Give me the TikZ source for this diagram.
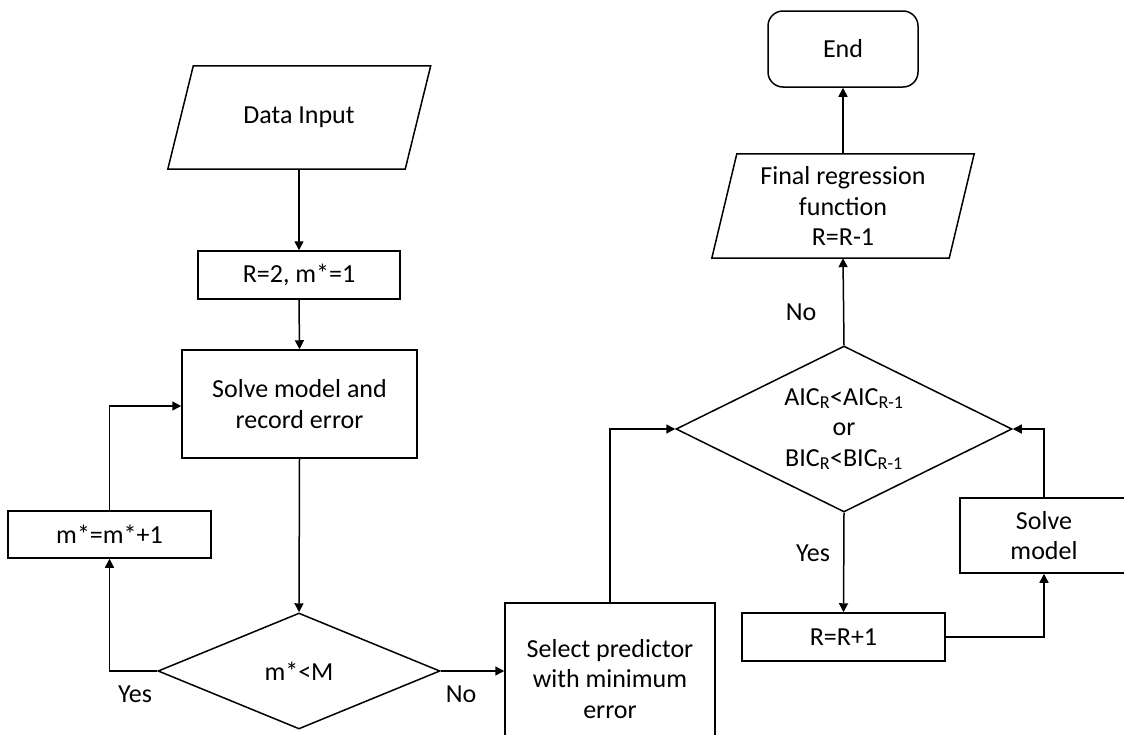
\documentclass[tikz,border=0pt]{standalone}
\usepackage{fontspec}
\setmainfont{Carlito}
\usetikzlibrary{shapes.geometric,arrows.meta,calc}
\tikzset{
  base/.style={inner sep=0pt, align=center, font=\fontsize{26}{30.5}\selectfont},
  box/.style={base, draw, rectangle, line width=1.5pt},
  ghost/.style={base, rectangle},
  dec/.style={base, draw, diamond, line width=1.5pt},
  term/.style={base, draw, rectangle, rounded corners=15pt, line width=1.5pt},
  conn/.style={line width=1.5pt, -{Triangle[length=9pt,width=9pt]}},
  para/.style={line width=1.5pt, line join=miter},
  lbl/.style={base}
}
\begin{document}
\begin{tikzpicture}[x=1pt,y=-1pt]
\useasboundingbox (0,0) rectangle (1124,734);
\clip (0,0) rectangle (1124,734);
% nodes
\node[ghost, minimum width=237pt, minimum height=103pt] (din) at (299,117.5) {Data Input};
\draw[para] ($(din.south west)+(-12.5,0)$) -- ($(din.north west)+(13,0)$) -- ($(din.north east)+(13,0)$) -- ($(din.south east)+(-12.5,0)$) -- cycle;
\node[box, minimum width=202pt, minimum height=48pt] (r2) at (299,275) {R=2, m*=1};
\node[box, minimum width=235pt, minimum height=108pt] (solve) at (299.5,404) {Solve model and\\record error};
\node[dec, minimum width=282pt, minimum height=116pt, aspect=2.43] (d1) at (299,671) {m*<M};
\node[box, minimum width=203pt, minimum height=47pt] (minc) at (109.5,534.5) {m*=m*+1};
\node[box, minimum width=210pt, minimum height=152pt] (sel) at (610,679) {Select predictor\\with minimum\\error};
\node[dec, minimum width=336pt, minimum height=166pt, aspect=2.02] (d2) at (844,429) {AIC\textsubscript{R}<AIC\textsubscript{R-1}\\or\\BIC\textsubscript{R}<BIC\textsubscript{R-1}};
\node[ghost, minimum width=237pt, minimum height=104pt] (fin) at (843,206) {Final regression\\function\\R=R-1};
\draw[para] ($(fin.south west)+(-12.5,0)$) -- ($(fin.north west)+(12.5,0)$) -- ($(fin.north east)+(12.5,0)$) -- ($(fin.south east)+(-12.5,0)$) -- cycle;
\node[term, minimum width=150pt, minimum height=76pt] (end) at (843,49) {End};
\node[box, minimum width=203pt, minimum height=48pt] (rr) at (843.5,637) {R=R+1};
\node[box, minimum width=168pt, minimum height=75pt] (sm) at (1044,535.5) {Solve\\model};
% labels
\node[lbl] (ly1) at (135,694) {Yes};
\node[lbl] (ln1) at (461,694) {No};
\node[lbl] (ln2) at (801,312) {No};
\node[lbl] (ly2) at (813,553) {Yes};
% connectors
\draw[conn] (din.south) -- (r2.north);
\draw[conn] (r2.south) -- (solve.north);
\draw[conn] (solve.south) -- (d1.north);
\draw[conn] (d1.west) -| (minc.south);
\draw[conn] (minc.north) |- ([yshift=-2pt]solve.west);
\draw[conn] (d1.east) -- (d1.east -| sel.west);
\draw[conn] (sel.north) |- (d2.west);
\draw[conn] (d2.north) -- (fin.south);
\draw[conn] (fin.north) -- (end.south);
\draw[conn] (d2.south) -- (rr.north);
\draw[conn] (rr.east) -| (sm.south);
\draw[conn] (sm.north) |- (d2.east);
\end{tikzpicture}
\end{document}
